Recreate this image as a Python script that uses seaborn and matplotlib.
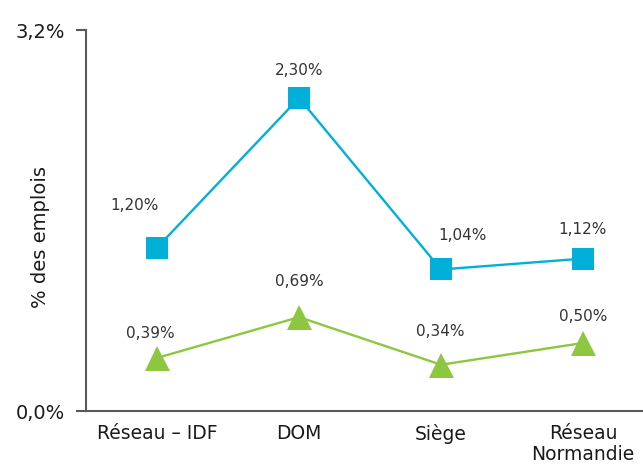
import matplotlib
matplotlib.use("Agg")
import matplotlib.pyplot as plt
import seaborn as sns
import pandas as pd

categories = ["Réseau – IDF", "DOM", "Siège", "Réseau\nNormandie"]
serie_carres = [1.20, 2.30, 1.04, 1.12]
serie_triangles = [0.39, 0.69, 0.34, 0.50]
labels_carres = ["1,20%", "2,30%", "1,04%", "1,12%"]
labels_triangles = ["0,39%", "0,69%", "0,34%", "0,50%"]
ytick_labels = ["0,0%", "3,2%"]

sns.set_style("white")
plt.rcParams["font.family"] = ["DejaVu Sans"]

blue = "#00B0D8"
green = "#8DC63F"
axis_col = "#5a5a5a"
txt = "#1a1a1a"

fig = plt.figure(figsize=(6.43, 4.65), dpi=100)
ax = fig.add_axes([86/643, 1-411/465, 568/643, 381/465])

x = list(range(len(categories)))
df = pd.DataFrame({"x": x + x,
                   "v": serie_carres + serie_triangles,
                   "s": ["a"]*4 + ["b"]*4})
sns.lineplot(data=df[df.s == "a"], x="x", y="v", ax=ax, color=blue, lw=1.7,
             marker="s", markersize=16, markeredgewidth=0, legend=False)
sns.lineplot(data=df[df.s == "b"], x="x", y="v", ax=ax, color=green, lw=1.7,
             marker="^", markersize=18, markeredgewidth=0, legend=False)

off_c = [(-22, 35), (0, 20), (22, 26), (0, 22)]
off_t = [(-7, 17), (0, 28), (-1, 26), (0, 19)]
for i in x:
    ax.annotate(labels_carres[i], (i, serie_carres[i]), xytext=off_c[i],
                textcoords="offset pixels", ha="center", va="bottom",
                fontsize=11, color="#333333")
    ax.annotate(labels_triangles[i], (i, serie_triangles[i]), xytext=off_t[i],
                textcoords="offset pixels", ha="center", va="bottom",
                fontsize=11, color="#333333")

ax.set_xlim(-0.5, 3.5)
ax.set_ylim(0, 2.8)
ax.set_yticks([0, 2.8])
ax.set_yticklabels(ytick_labels, fontsize=14, color=txt)
ax.set_xticks(x)
ax.set_xticklabels(categories, fontsize=13.5, color=txt, linespacing=1.15)
ax.set_xticks([0.5, 1.5, 2.5], minor=True)
ax.tick_params(axis="x", which="major", length=0, pad=9)
ax.tick_params(axis="x", which="minor", length=7, width=1.5, color=axis_col, direction="out")
ax.tick_params(axis="y", length=7, width=1.5, color=axis_col, direction="out", pad=8, left=True)
ax.set_xlabel("")
ax.set_ylabel("")
fig.text(40/643, 1-237/465, "% des emplois", rotation=90, ha="center", va="center",
         fontsize=14, color=txt)
for s in ["top", "right"]:
    ax.spines[s].set_visible(False)
for s in ["left", "bottom"]:
    ax.spines[s].set_color(axis_col)
    ax.spines[s].set_linewidth(1.5)
ax.grid(False)
fig.savefig("out.png", dpi=100)
